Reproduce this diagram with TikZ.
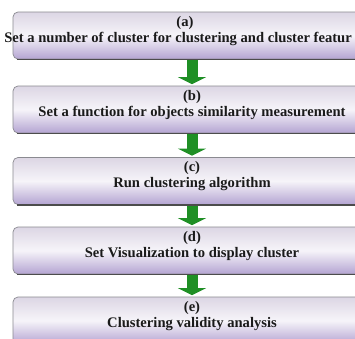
\documentclass[tikz,border=0pt]{standalone}
\usepackage{fontspec}
\setmainfont{Liberation Serif}
\usetikzlibrary{arrows.meta}
\definecolor{boxtop}{HTML}{DCD6E4}
\definecolor{boxmid}{HTML}{F6F4F9}
\definecolor{boxbot}{HTML}{B4A4D2}
\definecolor{boxedge}{HTML}{8A8A90}
\definecolor{arrowgreen}{HTML}{1F8F25}
\definecolor{txt}{HTML}{1A1A1A}
\tikzset{
  stepbox/.style={draw=boxedge, line width=0.7pt, rounded corners=5pt,
    top color=boxtop, bottom color=boxbot, middle color=boxmid,
    minimum width=358pt, minimum height=47pt, inner sep=0pt},
  steptext/.style={align=center, text=txt, font=\fontsize{14.6}{16}\selectfont\bfseries, inner sep=0pt},
  bottomedge/.style={line width=1.6pt, draw=black!70},
  flowarrow/.style={draw=arrowgreen, line width=11pt, shorten >=1.5pt,
    -{Triangle[width=28pt,length=7pt]}},
}
\begin{document}
\begin{tikzpicture}[x=1pt,y=-1pt]
\useasboundingbox (0,0) rectangle (355,338);
\clip (0,0) rectangle (355,338);
\fill[white] (0,0) rectangle (355,338);
\node[stepbox] (a) at (192,35.5) {};
\node[stepbox] (b) at (192,109.5) {};
\node[stepbox] (c) at (192,181) {};
\node[stepbox] (d) at (192,250.5) {};
\node[stepbox] (e) at (192,320.5) {};
\foreach \n in {a,b,c,d,e}{
  \draw[bottomedge] ([xshift=4pt]\n.south west) -- ([xshift=-4pt]\n.south east);
}
\node[steptext] (ta) at (178,31) {\hspace*{14pt}(a)\\Set a number of cluster for clustering and cluster featur};
\node[steptext] (tb) at ([yshift=4.5pt]b.center) {(b)\\Set a function for objects similarity measurement};
\node[steptext] (tc) at ([yshift=4.5pt]c.center) {(c)\\Run clustering algorithm};
\node[steptext] (td) at ([yshift=4.5pt]d.center) {(d)\\Set Visualization to display cluster};
\node[steptext] (te) at ([yshift=4.5pt]e.center) {(e)\\Clustering validity analysis};
\draw[flowarrow] ([yshift=-1pt]a.south) -- (b.north);
\draw[flowarrow] ([yshift=-1pt]b.south) -- (c.north);
\draw[flowarrow] ([yshift=-1pt]c.south) -- (d.north);
\draw[flowarrow] ([yshift=-1pt]d.south) -- (e.north);
\end{tikzpicture}
\end{document}
